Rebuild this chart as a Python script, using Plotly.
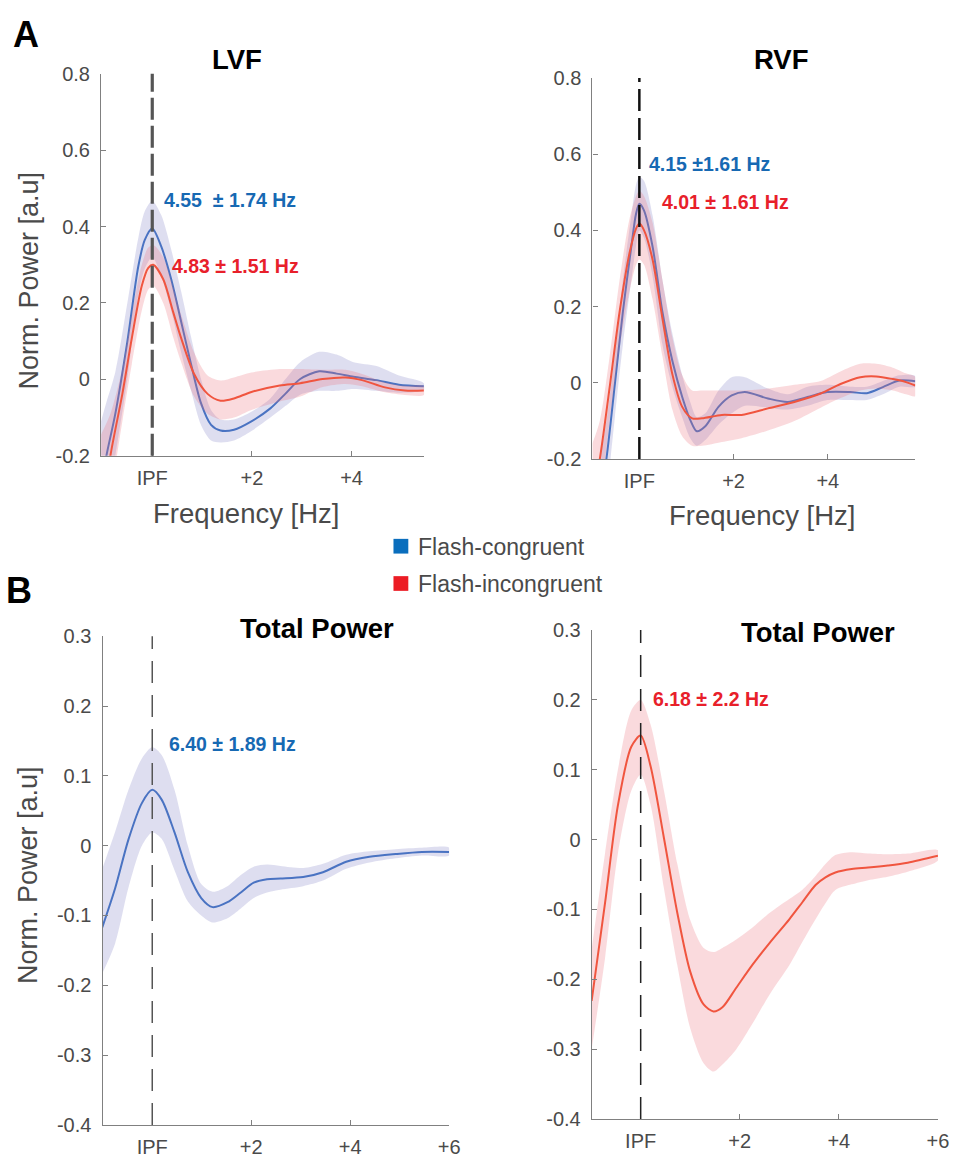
import plotly.graph_objects as go

W, H = 967, 1167
IPF = 0.0
FONT = "Liberation Sans, Arial, sans-serif"

# ---------------- Panel A: LVF ----------------
lvf_blue_f = [-1.05, -0.92, -0.74, -0.50, -0.28, -0.15, 0.0, 0.18, 0.38, 0.58, 0.78, 0.98, 1.18, 1.37, 1.64, 1.99,
              2.37, 2.67, 2.97, 3.35, 3.70, 4.04, 4.50, 4.95, 5.45]
lvf_blue_mean = [-0.30, -0.20, -0.089, 0.099, 0.296, 0.365, 0.395, 0.348, 0.262, 0.151, 0.039, -0.063, -0.119,
                 -0.134, -0.132, -0.110, -0.076, -0.038, 0.001, 0.021, 0.015, 0.007, -0.002, -0.014, -0.018]
lvf_blue_upper = [-0.12, -0.06, 0.02, 0.20, 0.37, 0.44, 0.467, 0.43, 0.34, 0.23, 0.11, 0.0, -0.08, -0.105, -0.105,
                  -0.085, -0.05, 0.0, 0.045, 0.072, 0.065, 0.045, 0.035, 0.01, -0.01]
lvf_blue_lower = [-0.50, -0.34, -0.20, 0.0, 0.22, 0.29, 0.32, 0.27, 0.18, 0.07, -0.03, -0.12, -0.16, -0.165, -0.16,
                  -0.135, -0.10, -0.07, -0.04, -0.03, -0.03, -0.025, -0.03, -0.035, -0.028]

lvf_red_f = [-1.05, -0.84, -0.60, -0.41, -0.21, -0.08, 0.02, 0.22, 0.42, 0.58, 0.84, 1.11, 1.37, 1.64, 1.99, 2.56,
             2.97, 3.42, 3.88, 4.21, 4.67, 5.07, 5.45]
lvf_red_mean = [-0.40, -0.20, -0.038, 0.108, 0.245, 0.292, 0.30, 0.262, 0.176, 0.108, 0.014, -0.038, -0.056, -0.05,
                -0.033, -0.016, -0.010, 0.001, 0.005, -0.002, -0.021, -0.029, -0.029]
lvf_red_upper = [-0.15, -0.09, 0.03, 0.17, 0.30, 0.345, 0.352, 0.32, 0.24, 0.17, 0.07, 0.01, -0.003, 0.005, 0.018,
                 0.027, 0.027, 0.025, 0.025, 0.014, -0.008, -0.017, -0.017]
lvf_red_lower = [-0.60, -0.32, -0.11, 0.04, 0.18, 0.235, 0.245, 0.20, 0.11, 0.045, -0.045, -0.09, -0.105, -0.10,
                 -0.08, -0.058, -0.045, -0.02, -0.012, -0.018, -0.034, -0.041, -0.041]

# ---------------- Panel A: RVF ----------------
rvf_blue_f = [-1.0, -0.70, -0.52, -0.35, -0.17, -0.07, 0.0, 0.10, 0.28, 0.49, 0.70, 0.91, 1.08, 1.22, 1.40, 1.68,
              1.96, 2.24, 2.73, 3.15, 3.57, 3.99, 4.48, 4.83, 5.17, 5.52, 5.86]
rvf_blue_mean = [-0.45, -0.20, -0.003, 0.186, 0.358, 0.444, 0.47, 0.452, 0.358, 0.186, 0.058, -0.037, -0.097, -0.127,
                 -0.114, -0.063, -0.033, -0.024, -0.041, -0.05, -0.037, -0.024, -0.024, -0.027, -0.011, 0.006, 0.004]
rvf_blue_upper = [-0.30, -0.10, 0.08, 0.27, 0.44, 0.52, 0.54, 0.53, 0.44, 0.27, 0.13, 0.02, -0.05, -0.09, -0.08,
                  -0.02, 0.015, 0.015, -0.015, -0.03, -0.01, -0.005, -0.01, -0.01, 0.005, 0.02, 0.018]
rvf_blue_lower = [-0.60, -0.30, -0.09, 0.10, 0.27, 0.36, 0.40, 0.38, 0.28, 0.10, -0.01, -0.09, -0.145, -0.165, -0.15,
                  -0.11, -0.08, -0.06, -0.065, -0.07, -0.06, -0.045, -0.045, -0.045, -0.03, -0.01, -0.01]

rvf_red_f = [-1.0, -0.84, -0.63, -0.42, -0.21, -0.07, 0.0, 0.10, 0.28, 0.49, 0.70, 0.91, 1.12, 1.33, 1.75, 2.17,
             2.73, 3.29, 3.85, 4.27, 4.69, 5.03, 5.38, 5.66, 5.86]
rvf_red_mean = [-0.30, -0.20, -0.011, 0.186, 0.34, 0.405, 0.418, 0.40, 0.324, 0.169, 0.023, -0.063, -0.093, -0.093,
                -0.084, -0.084, -0.067, -0.05, -0.028, -0.003, 0.015, 0.017, 0.01, 0.002, -0.007]
rvf_red_upper = [-0.16, -0.10, 0.07, 0.27, 0.43, 0.49, 0.504, 0.49, 0.42, 0.27, 0.12, 0.02, -0.02, -0.02, -0.02,
                 -0.02, -0.015, -0.005, 0.005, 0.03, 0.05, 0.05, 0.04, 0.025, 0.015]
rvf_red_lower = [-0.45, -0.32, -0.10, 0.09, 0.24, 0.31, 0.324, 0.31, 0.22, 0.07, -0.07, -0.14, -0.165, -0.165,
                 -0.155, -0.145, -0.125, -0.10, -0.065, -0.04, -0.02, -0.015, -0.02, -0.03, -0.035]

# ---------------- Panel B: Total Power (congruent) ----------------
tp_blue_f = [-1.01, -0.75, -0.48, -0.21, 0.0, 0.19, 0.45, 0.72, 0.99, 1.22, 1.52, 1.79, 2.05, 2.32, 2.59, 3.05,
             3.45, 3.92, 4.39, 4.92, 5.45, 6.0]
tp_blue_mean = [-0.117, -0.061, 0.009, 0.061, 0.080, 0.066, 0.019, -0.038, -0.075, -0.088, -0.081, -0.067, -0.053,
                -0.048, -0.047, -0.045, -0.038, -0.023, -0.016, -0.012, -0.009, -0.009]
tp_blue_upper = [-0.033, 0.02, 0.08, 0.125, 0.141, 0.13, 0.08, 0.0, -0.055, -0.066, -0.058, -0.042, -0.030, -0.027,
                 -0.029, -0.032, -0.026, -0.013, -0.008, -0.005, -0.003, -0.003]
tp_blue_lower = [-0.183, -0.14, -0.06, 0.0, 0.019, 0.01, -0.035, -0.08, -0.10, -0.11, -0.104, -0.09, -0.075,
                 -0.067, -0.063, -0.058, -0.05, -0.033, -0.024, -0.018, -0.014, -0.014]

# ---------------- Panel B: Total Power (incongruent) ----------------
tp_red_f = [-0.99, -0.72, -0.46, -0.19, 0.0, 0.20, 0.47, 0.74, 1.0, 1.27, 1.47, 1.65, 1.93, 2.27, 2.60, 3.0, 3.26,
            3.53, 3.73, 3.93, 4.26, 4.59, 4.99, 5.39, 6.0]
tp_red_mean = [-0.231, -0.091, 0.049, 0.133, 0.149, 0.105, 0.002, -0.105, -0.189, -0.236, -0.246, -0.240, -0.212,
               -0.178, -0.148, -0.114, -0.090, -0.065, -0.054, -0.047, -0.042, -0.040, -0.037, -0.033, -0.023]
tp_red_upper = [-0.157, -0.02, 0.10, 0.185, 0.20, 0.165, 0.07, -0.035, -0.115, -0.155, -0.161, -0.155, -0.143,
                -0.125, -0.105, -0.085, -0.072, -0.052, -0.035, -0.022, -0.018, -0.02, -0.021, -0.02, -0.015]
tp_red_lower = [-0.30, -0.17, -0.02, 0.07, 0.093, 0.05, -0.07, -0.18, -0.27, -0.32, -0.332, -0.322, -0.30, -0.262,
                -0.222, -0.18, -0.147, -0.114, -0.091, -0.072, -0.064, -0.058, -0.053, -0.046, -0.03]

# tick labels
ticks_top_x = [0, 2, 4]
ticks_top_x_text = ["IPF", "+2", "+4"]
ticks_bot_x = [0, 2, 4, 6]
ticks_bot_x_text = ["IPF", "+2", "+4", "+6"]
ticks_top_y = [-0.2, 0, 0.2, 0.4, 0.6, 0.8]
ticks_top_y_text = ["-0.2", "0", "0.2", "0.4", "0.6", "0.8"]
ticks_bot_y = [-0.4, -0.3, -0.2, -0.1, 0, 0.1, 0.2, 0.3]
ticks_bot_y_text = ["-0.4", "-0.3", "-0.2", "-0.1", "0", "0.1", "0.2", "0.3"]

BLUE_LINE = "#4a73c2"
RED_LINE = "#f0553f"
BLUE_BAND = "rgba(123,123,195,0.25)"
RED_BAND = "rgba(235,107,119,0.25)"
BLUE_TXT = "#1769b3"
RED_TXT = "#e8202a"
AX_COL = "#808080"
TXT_COL = "#4a4a4a"

fig = go.Figure()


def add_series(f, mean, upper, lower, line_col, band_col, xa, ya):
    fig.add_trace(go.Scatter(x=list(f) + list(f)[::-1], y=list(upper) + list(lower)[::-1],
                             fill="toself", fillcolor=band_col, line=dict(width=0, shape="spline", smoothing=0.8),
                             mode="lines", hoverinfo="skip", showlegend=False, xaxis=xa, yaxis=ya))
    fig.add_trace(go.Scatter(x=f, y=mean, mode="lines",
                             line=dict(color=line_col, width=2, shape="spline", smoothing=0.8),
                             showlegend=False, xaxis=xa, yaxis=ya))


add_series(lvf_blue_f, lvf_blue_mean, lvf_blue_upper, lvf_blue_lower, BLUE_LINE, BLUE_BAND, "x", "y")
add_series(lvf_red_f, lvf_red_mean, lvf_red_upper, lvf_red_lower, RED_LINE, RED_BAND, "x", "y")
add_series(rvf_blue_f, rvf_blue_mean, rvf_blue_upper, rvf_blue_lower, BLUE_LINE, BLUE_BAND, "x2", "y2")
add_series(rvf_red_f, rvf_red_mean, rvf_red_upper, rvf_red_lower, RED_LINE, RED_BAND, "x2", "y2")
add_series(tp_blue_f, tp_blue_mean, tp_blue_upper, tp_blue_lower, BLUE_LINE, BLUE_BAND, "x3", "y3")
add_series(tp_red_f, tp_red_mean, tp_red_upper, tp_red_lower, RED_LINE, RED_BAND, "x4", "y4")


def px_x(p):
    return p / W


def px_y(p):
    return 1 - p / H


def xax(dom, rng, tv, tt, anchor):
    return dict(domain=[px_x(dom[0]), px_x(dom[1])], range=rng, anchor=anchor, showgrid=False, zeroline=False,
                showline=True, linecolor=AX_COL, linewidth=1.3, ticks="inside", ticklen=5, tickcolor=AX_COL,
                tickwidth=1.2, tickvals=tv, ticktext=tt, tickfont=dict(family=FONT, size=20, color=TXT_COL),
                ticklabelstandoff=4, fixedrange=True)


def yax(dom, rng, tv, tt, anchor):
    return dict(domain=[px_y(dom[1]), px_y(dom[0])], range=rng, anchor=anchor, showgrid=False, zeroline=False,
                showline=True, linecolor=AX_COL, linewidth=1.3, ticks="inside", ticklen=5, tickcolor=AX_COL,
                tickwidth=1.2, tickvals=tv, ticktext=tt, tickfont=dict(family=FONT, size=20, color=TXT_COL),
                ticklabelstandoff=6, fixedrange=True)


fig.update_layout(
    width=W, height=H, margin=dict(l=0, r=0, t=0, b=0), paper_bgcolor="white", plot_bgcolor="white",
    showlegend=False, font=dict(family=FONT),
    xaxis=xax((102.3, 429.0), [-1.026, 5.456], ticks_top_x, ticks_top_x_text, "y"),
    yaxis=yax((64.0, 453.3), [-0.2, 0.8], ticks_top_y, ticks_top_y_text, "x"),
    xaxis2=xax((599.3, 925.7), [-0.995, 5.855], ticks_top_x, ticks_top_x_text, "y2"),
    yaxis2=yax((68.3, 456.7), [-0.2, 0.8], ticks_top_y, ticks_top_y_text, "x2"),
    xaxis3=xax((103.7, 454.3), [-1.005, 6.0], ticks_bot_x, ticks_bot_x_text, "y3"),
    yaxis3=yax((637.3, 1135.3), [-0.4, 0.3], ticks_bot_y, ticks_bot_y_text, "x3"),
    xaxis4=xax((598.7, 948.7), [-0.985, 6.0], ticks_bot_x, ticks_bot_x_text, "y4"),
    yaxis4=yax((631.0, 1129.3), [-0.4, 0.3], ticks_bot_y, ticks_bot_y_text, "x4"),
)

# IPF dashed reference lines
shapes = [
    dict(type="line", xref="x", yref="y domain", x0=IPF, x1=IPF, y0=0, y1=1,
         line=dict(color="#555555", width=3.2, dash="22px,6px")),
    dict(type="line", xref="x2", yref="y2 domain", x0=IPF, x1=IPF, y0=0, y1=1,
         line=dict(color="#111111", width=2.5, dash="22px,7px")),
    dict(type="line", xref="x3", yref="y3 domain", x0=IPF, x1=IPF, y0=0, y1=1,
         line=dict(color="#555555", width=1.5, dash="22px,12px")),
    dict(type="line", xref="x4", yref="y4 domain", x0=IPF, x1=IPF, y0=0, y1=1,
         line=dict(color="#222222", width=1.5, dash="22px,12px")),
    # legend squares
    dict(type="rect", xref="paper", yref="paper", x0=px_x(398), x1=px_x(413), y0=px_y(553), y1=px_y(538),
         fillcolor="#0a6ebd", line=dict(width=0)),
    dict(type="rect", xref="paper", yref="paper", x0=px_x(398), x1=px_x(413), y0=px_y(591), y1=px_y(576),
         fillcolor="#ec1c24", line=dict(width=0)),
]
fig.update_layout(shapes=shapes)


def ann(text, x, y, size, color, bold=False, xanchor="center", angle=0):
    t = f"<b>{text}</b>" if bold else text
    fig.add_annotation(text=t, x=px_x(x), y=px_y(y), xref="paper", yref="paper", showarrow=False,
                       xanchor=xanchor, yanchor="middle", textangle=angle,
                       font=dict(family=FONT, size=size, color=color))


# panel letters
ann("A", 26, 24, 36, "black", bold=True)
ann("B", 19.5, 591, 36, "black", bold=True)
# titles
ann("LVF", 240, 49, 27.5, "black", bold=True)
ann("RVF", 790, 49, 27.5, "black", bold=True)
ann("Total Power", 321, 629, 27.5, "black", bold=True)
ann("Total Power", 827, 633, 27.5, "black", bold=True)
# axis labels
ann("Norm. Power [a.u]", 29, 275, 27, TXT_COL, angle=-90)
ann("Norm. Power [a.u]", 29, 881, 27, TXT_COL, angle=-90)
ann("Frequency [Hz]", 249, 512, 27.5, TXT_COL)
ann("Frequency [Hz]", 771, 514, 27.5, TXT_COL)
# legend text
ann("Flash-congruent", 421, 546, 23, TXT_COL, xanchor="left")
ann("Flash-incongruent", 421, 584, 23, TXT_COL, xanchor="left")
# peak frequency annotations
ann("4.55  \u00b1 1.74 Hz", 164, 193, 19.5, BLUE_TXT, bold=True, xanchor="left")
ann("4.83 \u00b1 1.51 Hz", 172, 260, 19.5, RED_TXT, bold=True, xanchor="left")
ann("4.15 \u00b11.61 Hz", 654, 156, 19.5, BLUE_TXT, bold=True, xanchor="left")
ann("4.01 \u00b1 1.61 Hz", 668, 195, 19.5, RED_TXT, bold=True, xanchor="left")
ann("6.40 \u00b1 1.89 Hz", 169, 747, 19.5, BLUE_TXT, bold=True, xanchor="left")
ann("6.18 \u00b1 2.2 Hz", 658, 701, 19.5, RED_TXT, bold=True, xanchor="left")

fig.write_html("out.html")
